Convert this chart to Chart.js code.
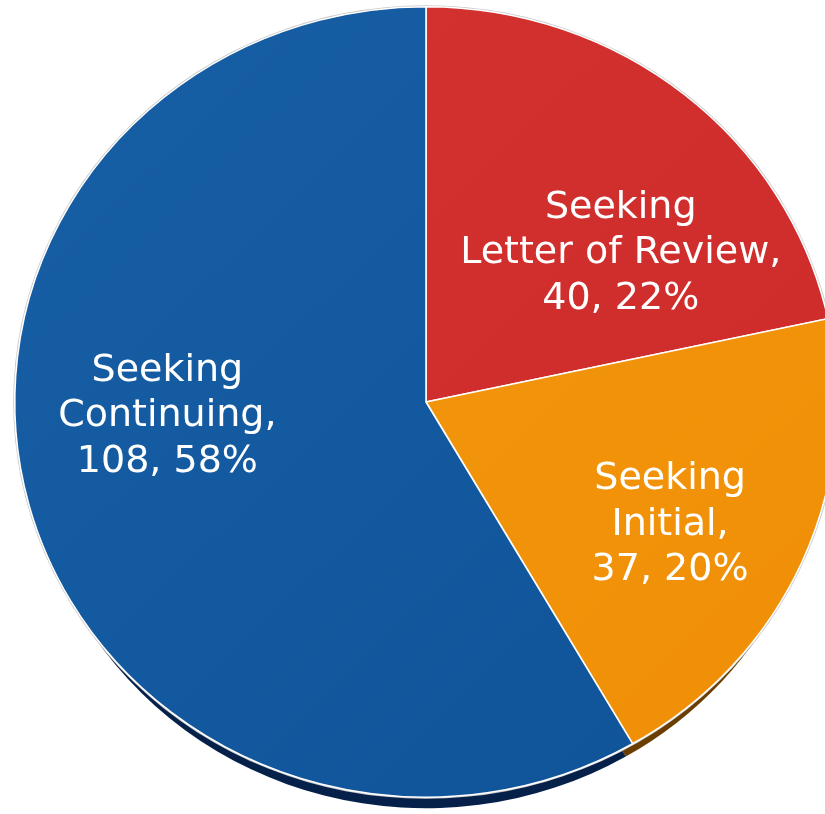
<!DOCTYPE html>
<html>
<head>
<meta charset="utf-8">
<script src="https://cdn.jsdelivr.net/npm/chart.js@4.4.0/dist/chart.umd.min.js"></script>
<style>
  html, body { margin: 0; padding: 0; background: #ffffff; }
  #wrap { width: 825px; height: 814px; }
</style>
</head>
<body>
<div id="wrap"><canvas id="pieChart" width="825" height="814"></canvas></div>
<script>
// Slice data
const categories = ["Seeking\nLetter of Review,", "Seeking\nInitial,", "Seeking\nContinuing,"];
const counts = [40, 37, 108];
const percents = [22, 20, 58];

const faceColors = ["#cd2a29", "#f08e06", "#0f5398"];
const lightColors = ["#d43330", "#f39b10", "#175fa6"];
const depthColors = ["#6e1414", "#6a3e00", "#05214a"];

// label placement: shift from slice mid-angle (deg) and fraction of radius
const labelPlace = [
  { shift: 12.6, dist: 0.605 },
  { shift: 3.8, dist: 0.67 },
  { shift: 11.8, dist: 0.63 },
];

const STRETCH_X = 412 / 396; // pie is a little wider than tall
const DEPTH = 24;
const DEPTH_SHRINK = 13;

function stretch(ctx, chart) {
  const arc = chart.getDatasetMeta(0).data[0];
  ctx.translate(arc.x, 0);
  ctx.scale(STRETCH_X, 1);
  ctx.translate(-arc.x, 0);
}

const pie3d = {
  id: "pie3d",
  beforeDatasetsDraw(chart) {
    const ctx = chart.ctx;
    const arcs = chart.getDatasetMeta(0).data;
    ctx.save();
    stretch(ctx, chart);
    // bottom edge of the disc
    ctx.save();
    ctx.translate(0, DEPTH);
    arcs.forEach((a, i) => {
      ctx.beginPath();
      ctx.moveTo(a.x, a.y);
      ctx.arc(a.x, a.y, a.outerRadius - DEPTH_SHRINK, a.startAngle, a.endAngle);
      ctx.closePath();
      ctx.fillStyle = depthColors[i];
      ctx.fill();
    });
    ctx.restore();
    // soft grey rim
    const a0 = arcs[0];
    ctx.beginPath();
    ctx.arc(a0.x, a0.y, a0.outerRadius + 1.5, 0, Math.PI * 2);
    ctx.fillStyle = "#c8c8c8";
    ctx.fill();
  },
  afterDatasetsDraw(chart) {
    const ctx = chart.ctx;
    ctx.restore();
    const arcs = chart.getDatasetMeta(0).data;
    ctx.save();
    ctx.fillStyle = "#ffffff";
    ctx.font = "38px 'DejaVu Sans', Verdana, sans-serif";
    ctx.textAlign = "center";
    ctx.textBaseline = "middle";
    arcs.forEach((a, i) => {
      const mid = (a.startAngle + a.endAngle) / 2 + labelPlace[i].shift * Math.PI / 180;
      const r = a.outerRadius * labelPlace[i].dist;
      const x = a.x + Math.cos(mid) * r * STRETCH_X;
      const y = a.y + Math.sin(mid) * r;
      const lines = categories[i].split("\n").concat([counts[i] + ", " + percents[i] + "%"]);
      const lh = 45.5;
      lines.forEach((t, k) => {
        ctx.fillText(t, x, y + (k - (lines.length - 1) / 2) * lh);
      });
    });
    ctx.restore();
  },
};

const ctx = document.getElementById("pieChart");

function sliceFill(context) {
  const chart = context.chart;
  const i = context.dataIndex;
  const area = chart.chartArea;
  if (!area) return faceColors[i];
  const g = chart.ctx.createLinearGradient(area.left, area.top, area.right, area.bottom);
  g.addColorStop(0, lightColors[i]);
  g.addColorStop(1, faceColors[i]);
  return g;
}

new Chart(ctx, {
  type: "pie",
  data: {
    labels: categories,
    datasets: [
      {
        data: counts,
        backgroundColor: sliceFill,
        borderColor: "#ffffff",
        borderWidth: 1.5,
        clip: false,
      },
    ],
  },
  options: {
    responsive: false,
    animation: false,
    layout: { padding: { left: 30, right: 3, top: 6, bottom: 16 } },
    plugins: {
      legend: { display: false },
      tooltip: { enabled: false },
    },
  },
  plugins: [pie3d],
});
</script>
</body>
</html>
